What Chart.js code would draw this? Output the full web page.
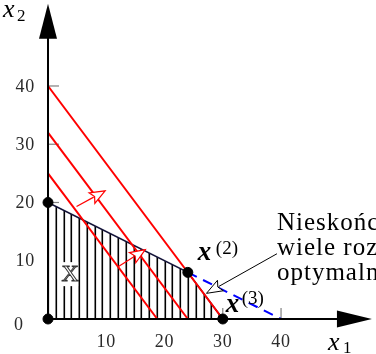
<!DOCTYPE html>
<html>
<head>
<meta charset="utf-8">
<script src="https://cdn.jsdelivr.net/npm/chart.js@4/dist/chart.umd.min.js"></script>
<style>
  html, body { margin: 0; padding: 0; background: #fff; }
  #wrap { width: 376px; height: 354px; }
</style>
</head>
<body>
<div id="wrap"><canvas id="lp" width="376" height="354"></canvas></div>
<script>
// --- data -------------------------------------------------------------
// feasible region boundary (upper edge), closed down to x1 axis
const regionX = [0, 24, 30];
const regionY = [20, 8, 0];
// objective level lines 4x1 + 3x2 = c, as axis intercepts
const levelYIntercept = [25, 32, 40];
const levelXIntercept = [18.75, 24, 30];
// extension of constraint x1 + 2x2 = 40 (dashed blue)
const extX = [24, 40];
const extY = [8, 0];
// vertices
const vertexX = [0, 0, 24, 30];
const vertexY = [0, 20, 8, 0];
// gradient arrows (tail -> tip)
const gradTailX = [4.9, 12.1];
const gradTailY = [19.3, 9.0];
const gradTipX = [9.8, 16.7];
const gradTipY = [22.0, 11.9];
// annotation arrow (from note to optimal edge)
const noteTail = [39.3, 11.2];
const noteTip = [27.2, 4.4];
const noteLines = ['Nieskończenie', 'wiele rozwiązań', 'optymalnych'];
// axes
const yTicks = [0, 10, 20, 30, 40];
const xTicks = [10, 20, 30, 40];
const axisXEnd = 55.6;
const axisYEnd = 54.1;

const SERIF = '"Liberation Serif", "DejaVu Serif", serif';

function hatchPattern() {
  const c = document.createElement('canvas');
  c.width = 70; c.height = 8;
  const g = c.getContext('2d');
  g.fillStyle = '#fff';
  g.fillRect(0, 0, 70, 8);
  g.fillStyle = '#000';
  for (let k = 0; k < 9; k++) g.fillRect(Math.round(1.34 + k * 7.78) - 0.5, 0, 1.6, 8);
  return g.createPattern(c, 'repeat');
}

function pts(xs, ys) { return xs.map((x, i) => ({ x: x, y: ys[i] })); }

function drawArrow(ctx, x1, y1, x2, y2, color, lw, len, half) {
  const a = Math.atan2(y2 - y1, x2 - x1);
  const bx = x2 - len * Math.cos(a), by = y2 - len * Math.sin(a);
  ctx.save();
  ctx.strokeStyle = color;
  ctx.lineWidth = lw;
  ctx.beginPath();
  ctx.moveTo(x1, y1);
  ctx.lineTo(bx + 2 * Math.cos(a), by + 2 * Math.sin(a));
  ctx.stroke();
  const px = -Math.sin(a) * half, py = Math.cos(a) * half;
  ctx.beginPath();
  ctx.moveTo(x2, y2);
  ctx.lineTo(bx + px, by + py);
  ctx.lineTo(bx + 3 * Math.cos(a), by + 3 * Math.sin(a));
  ctx.lineTo(bx - px, by - py);
  ctx.closePath();
  ctx.fillStyle = '#fff';
  ctx.fill();
  ctx.stroke();
  ctx.restore();
}

const axesPlugin = {
  id: 'axesPlugin',
  beforeDatasetsDraw(chart) {
    const ctx = chart.ctx, xs = chart.scales.x, ys = chart.scales.y;
    const x0 = xs.getPixelForValue(0), y0 = ys.getPixelForValue(0);
    ctx.save();
    ctx.strokeStyle = '#808080';
    ctx.lineWidth = 1.2;
    yTicks.forEach(v => {
      if (v === 0) return;
      const py = ys.getPixelForValue(v);
      ctx.beginPath(); ctx.moveTo(x0, py); ctx.lineTo(x0 + 11, py); ctx.stroke();
    });
    xTicks.forEach(v => {
      const px = xs.getPixelForValue(v);
      ctx.beginPath(); ctx.moveTo(px, y0); ctx.lineTo(px, y0 - 11); ctx.stroke();
    });
    ctx.restore();
  },
  afterDatasetsDraw(chart) {
    const ctx = chart.ctx, xs = chart.scales.x, ys = chart.scales.y;
    const x0 = xs.getPixelForValue(0), y0 = ys.getPixelForValue(0);
    const xEnd = xs.getPixelForValue(axisXEnd), yEnd = ys.getPixelForValue(axisYEnd);
    ctx.save();
    // axes with filled arrowheads
    ctx.strokeStyle = '#000';
    ctx.fillStyle = '#000';
    ctx.lineWidth = 2;
    ctx.beginPath();
    ctx.moveTo(x0, y0); ctx.lineTo(xEnd - 30, y0);
    ctx.moveTo(x0, y0); ctx.lineTo(x0, yEnd + 30);
    ctx.stroke();
    ctx.beginPath();
    ctx.moveTo(xEnd, y0); ctx.lineTo(xEnd - 35, y0 - 8.5); ctx.lineTo(xEnd - 35, y0 + 8.5); ctx.closePath();
    ctx.fill();
    ctx.beginPath();
    ctx.moveTo(x0, yEnd); ctx.lineTo(x0 - 9, yEnd + 35); ctx.lineTo(x0 + 9, yEnd + 35); ctx.closePath();
    ctx.fill();

    // tick labels
    ctx.fillStyle = '#2a2a2a';
    ctx.font = '18px ' + SERIF;
    ctx.letterSpacing = '0.8px';
    ctx.textBaseline = 'middle';
    ctx.textAlign = 'right';
    yTicks.forEach(v => {
      if (v === 0) {
        ctx.textAlign = 'center';
        ctx.fillText('0', x0 - 29, y0 + 6);
        ctx.textAlign = 'right';
      } else {
        ctx.fillText(String(v), x0 - 13, ys.getPixelForValue(v) + 1);
      }
    });
    ctx.textAlign = 'center';
    xTicks.forEach(v => ctx.fillText(String(v), xs.getPixelForValue(v), y0 + 23));
    ctx.letterSpacing = '0px';

    // axis titles
    ctx.fillStyle = '#000';
    ctx.textAlign = 'left';
    ctx.textBaseline = 'alphabetic';
    ctx.font = 'italic 26px ' + SERIF;
    ctx.fillText('x', 328, y0 + 31);
    ctx.fillText('x', 3, 17);
    ctx.font = '17px ' + SERIF;
    ctx.fillText('1', 343, y0 + 34);
    ctx.fillText('2', 17, 21);

    // gradient arrows
    gradTailX.forEach((tx, i) => {
      drawArrow(ctx, xs.getPixelForValue(tx), ys.getPixelForValue(gradTailY[i]),
        xs.getPixelForValue(gradTipX[i]), ys.getPixelForValue(gradTipY[i]), '#ff0000', 1.2, 15, 6);
    });

    // region label "X" (outlined) on white box
    const lx = xs.getPixelForValue(3.8), ly = ys.getPixelForValue(7.7);
    ctx.fillStyle = '#fff';
    ctx.fillRect(lx - 8, ly - 12, 16, 24);
    ctx.font = '24px ' + SERIF;
    ctx.textAlign = 'center';
    ctx.textBaseline = 'middle';
    ctx.strokeStyle = '#333';
    ctx.lineWidth = 1;
    ctx.strokeText('X', lx, ly + 1);

    // vertex labels
    ctx.textAlign = 'left';
    ctx.textBaseline = 'alphabetic';
    ctx.fillStyle = '#000';
    const p2x = xs.getPixelForValue(vertexX[2]), p2y = ys.getPixelForValue(vertexY[2]);
    const p3x = xs.getPixelForValue(vertexX[3]), p3y = ys.getPixelForValue(vertexY[3]);
    ctx.font = 'bold italic 27px ' + SERIF;
    ctx.fillText('x', p2x + 10, p2y - 12);
    ctx.fillText('x', p3x + 3, p3y - 7);
    ctx.font = '19px ' + SERIF;
    ctx.fillText('(2)', p2x + 28, p2y - 18);
    ctx.fillText('(3)', p3x + 19, p3y - 15);

    // annotation
    drawArrow(ctx, xs.getPixelForValue(noteTail[0]), ys.getPixelForValue(noteTail[1]),
      xs.getPixelForValue(noteTip[0]), ys.getPixelForValue(noteTip[1]), '#000', 1, 16, 6);
    ctx.fillStyle = '#000';
    ctx.font = '25px ' + SERIF;
    ctx.letterSpacing = '1px';
    const nx = xs.getPixelForValue(noteTail[0]);
    const ny = ys.getPixelForValue(noteTail[1]);
    noteLines.forEach((t, i) => ctx.fillText(t, nx, ny - 24 + i * 25));
    ctx.restore();
  }
};

const levelDatasets = levelYIntercept.map((yi, i) => ({
  data: [{ x: 0, y: yi }, { x: levelXIntercept[i], y: 0 }],
  showLine: true, borderColor: '#ff0000', borderWidth: 2, pointRadius: 0, fill: false
}));

new Chart(document.getElementById('lp'), {
  type: 'scatter',
  data: {
    datasets: [
      {
        data: pts(vertexX, vertexY),
        showLine: false, pointRadius: 5, pointBorderWidth: 1,
        pointBackgroundColor: '#000', pointBorderColor: '#000'
      },
      {
        data: pts(extX, extY),
        showLine: true, borderColor: '#0000ff', borderWidth: 2,
        borderDash: [10, 7], pointRadius: 0, fill: false
      },
      ...levelDatasets,
      {
        data: pts(regionX, regionY),
        showLine: true, borderColor: '#14143a', borderWidth: 1.6,
        pointRadius: 0, fill: 'origin', backgroundColor: hatchPattern()
      }
    ]
  },
  options: {
    responsive: false,
    animation: false,
    devicePixelRatio: 1,
    layout: { padding: 0, autoPadding: false },
    plugins: { legend: { display: false }, tooltip: { enabled: false } },
    scales: {
      x: { type: 'linear', min: -8.24, max: 56.3, display: false },
      y: { type: 'linear', min: -6.01, max: 54.76, display: false }
    }
  },
  plugins: [axesPlugin]
});
</script>
</body>
</html>
